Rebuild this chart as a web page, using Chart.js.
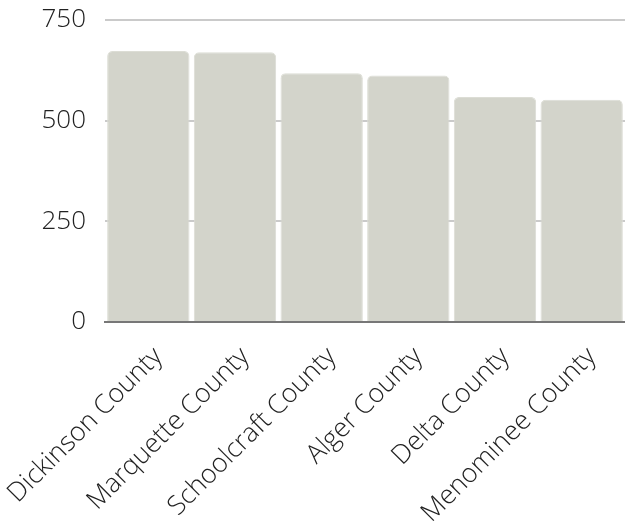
<!DOCTYPE html>
<html>
<head>
<meta charset="utf-8">
<script src="https://cdn.jsdelivr.net/npm/chart.js@4"></script>
<style>
  html, body { margin: 0; padding: 0; background: #fff; }
  #wrap { width: 625px; height: 522px; }
</style>
</head>
<body>
<div id="wrap"><canvas id="chart" width="625" height="522"></canvas></div>
<script>
const counties = ['Dickinson County', 'Marquette County', 'Schoolcraft County', 'Alger County', 'Delta County', 'Menominee County'];
const values = [673, 670, 618, 612, 559, 552];
const yTicks = [0, 250, 500, 750];

const ctx = document.getElementById('chart').getContext('2d');
new Chart(ctx, {
    type: 'bar',
    data: {
        labels: counties,
        datasets: [{
            data: values,
            backgroundColor: '#d3d4cb',
            borderColor: '#dcddd5',
            borderWidth: 1,
            borderRadius: { topLeft: 5, topRight: 5 },
            borderSkipped: 'bottom',
            barPercentage: 0.95,
            categoryPercentage: 1
        }]
    },
    options: {
        responsive: false,
        animation: false,
        layout: { padding: { left: 0, right: 0, top: 20, bottom: 0 } },
        plugins: { legend: { display: false }, tooltip: { enabled: false } },
        scales: {
            x: {
                // fixed box sizes so the plot area lands where the original has it
                afterFit: (axis) => {
                    axis.height = 200;
                    axis.paddingLeft = 0;
                    axis.paddingRight = 0;
                },
                grid: { display: false, drawTicks: false },
                border: { display: true, color: '#777', width: 2 },
                ticks: {
                    font: { family: 'Open Sans', weight: 300, size: 26.5 },
                    color: '#222',
                    maxRotation: 45,
                    minRotation: 45,
                    padding: 19,
                    labelOffset: 10
                }
            },
            y: {
                min: 0,
                max: 750,
                afterFit: (axis) => {
                    axis.width = 105;
                    axis.paddingTop = 0;
                    axis.paddingBottom = 0;
                },
                afterBuildTicks: (axis) => { axis.ticks = yTicks.map(v => ({ value: v })); },
                grid: { color: '#cacaca', lineWidth: 2, drawTicks: false },
                border: { display: false },
                ticks: {
                    font: { family: 'Open Sans', weight: 300, size: 26 },
                    color: '#222',
                    padding: 19
                }
            }
        }
    }
});
</script>
</body>
</html>
